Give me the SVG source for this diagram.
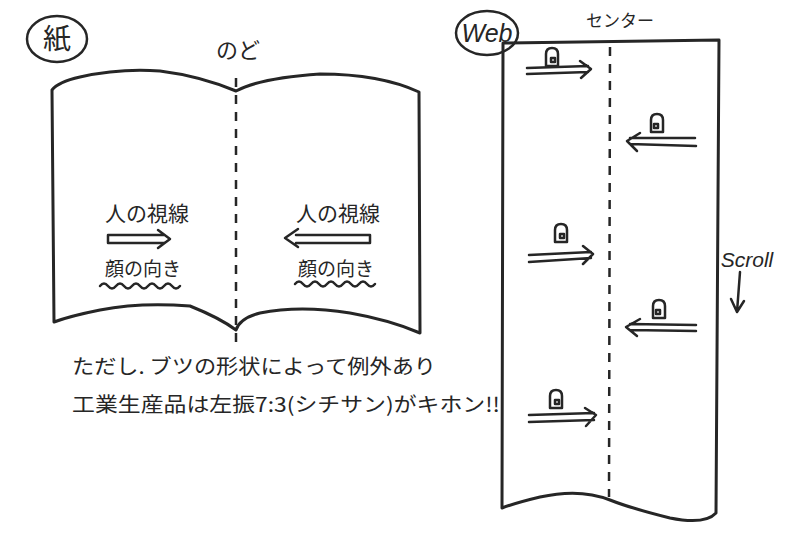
<svg xmlns="http://www.w3.org/2000/svg" width="800" height="555" viewBox="0 0 800 555">
<style>
.ln{fill:none;stroke:#262626;stroke-width:3;stroke-linecap:round;stroke-linejoin:round}
.th{fill:none;stroke:#262626;stroke-width:2.5;stroke-linecap:round;stroke-linejoin:round}
.dash{fill:none;stroke:#262626;stroke-width:2.5;stroke-dasharray:9 8}
.tx{font-family:"Noto Sans CJK JP","Noto Sans",sans-serif;fill:#262626}
.en{font-family:"Liberation Sans","DejaVu Sans",sans-serif;fill:#262626;font-style:italic}
</style>
<defs>
<g id="faceR">
<path class="th" d="M-6,9 L-6,-3 Q-6,-9 0,-9 Q6,-9 6,-3 L6,9 Z"/>
<path class="th" d="M-1,1 h4 v4 h-4 z"/>
</g>
<g id="faceL">
<path class="th" d="M-6,9 L-6,-3 Q-6,-9 0,-9 Q6,-9 6,-3 L6,9 Z"/>
<path class="th" d="M-3,1 h4 v4 h-4 z"/>
</g>
</defs>
<rect width="800" height="555" fill="#fff"/>

<g id="paper-label">
<ellipse class="th" cx="57" cy="39" rx="30" ry="23"/>
<text class="tx" x="57" y="49" font-size="28" text-anchor="middle">紙</text>
</g>
<g id="nodo-label">
<text class="tx" x="238" y="58" font-size="22" text-anchor="middle">のど</text>
</g>

<g id="book">
<path class="ln" d="M52,90 Q58,82 80,77 Q120,68 160,71 Q200,76 236,91 Q260,78 320,74 Q380,74 419,92 L420,333 Q390,320 350,313 Q300,305 260,313 Q240,318 236,330 Q220,318 190,306 Q140,302 100,310 Q70,316 54,322 Z"/>
<line class="dash" x1="236" y1="78" x2="236" y2="345"/>
</g>

<g id="left-page">
<text class="tx" x="147" y="221" font-size="21" text-anchor="middle">人の視線</text>
<path class="th" d="M108,235 L164,235 M108,243 L164,243 M108,235 L108,243 M158,230 L170,239 L158,248"/>
<text class="tx" x="143" y="276" font-size="19" text-anchor="middle">顔の向き</text>
<path class="th" d="M100,286 q4,-5 8,0 t8,0 t8,0 t8,0 t8,0 t8,0 t8,0 t8,0 t8,0 t8,0"/>
</g>
<g id="right-page">
<text class="tx" x="338" y="221" font-size="21" text-anchor="middle">人の視線</text>
<path class="th" d="M370,235 L296,235 M370,243 L296,243 M370,235 L370,243 M298,229 L285,238 L298,247"/>
<text class="tx" x="336" y="276" font-size="19" text-anchor="middle">顔の向き</text>
<path class="th" d="M295,284 q4,-5 8,0 t8,0 t8,0 t8,0 t8,0 t8,0 t8,0 t8,0 t8,0 t8,0"/>
</g>

<g id="notes">
<text class="tx" x="72" y="374" font-size="20" textLength="364" lengthAdjust="spacingAndGlyphs">ただし. ブツの形状によって例外あり</text>
<text class="tx" x="72" y="412" font-size="20" textLength="428" lengthAdjust="spacingAndGlyphs">工業生産品は左振7:3(シチサン)がキホン!!</text>
</g>

<g id="web-label">
<ellipse class="th" cx="487" cy="33" rx="31" ry="22"/>
<text class="en" x="487" y="42" font-size="25" text-anchor="middle">Web</text>
</g>
<g id="center-label">
<text class="tx" x="620" y="27" font-size="17" text-anchor="middle">センター</text>
</g>

<g id="web-page">
<path class="ln" d="M503,43 L719,40 L716,513 Q705,525 670,518 Q630,508 610,500 Q580,488 540,497 Q515,503 502,508 Z"/>
<line class="dash" x1="610" y1="47" x2="609" y2="497"/>
</g>

<g id="faces">
<use href="#faceR" x="552" y="57"/>
<use href="#faceL" x="657" y="123"/>
<use href="#faceR" x="561" y="233"/>
<use href="#faceL" x="659" y="309"/>
<use href="#faceR" x="556" y="399"/>
</g>

<g id="connectors">
<path class="th" d="M527,68 L588,66 M527,74 L588,72 M580,61 L591,69 L581,78"/>
<path class="th" d="M695,138 L630,138 M696,146 L630,144 M640,133 L627,141 L637,151"/>
<path class="th" d="M529,255 L591,252 M529,262 L591,258 M583,246 L593,254 L583,264"/>
<path class="th" d="M696,325 L630,324 M696,331 L630,330 M640,319 L626,327 L637,336"/>
<path class="th" d="M529,415 L594,413 M529,422 L594,420 M585,408 L596,415 L586,426"/>
<path class="th" d="M740,272 L737,312 M731,299 L737,312 M744,301 L737,312"/>
</g>

<g id="scroll-label">
<text class="en" x="747" y="267" font-size="21" text-anchor="middle">Scroll</text>
</g>
</svg>
